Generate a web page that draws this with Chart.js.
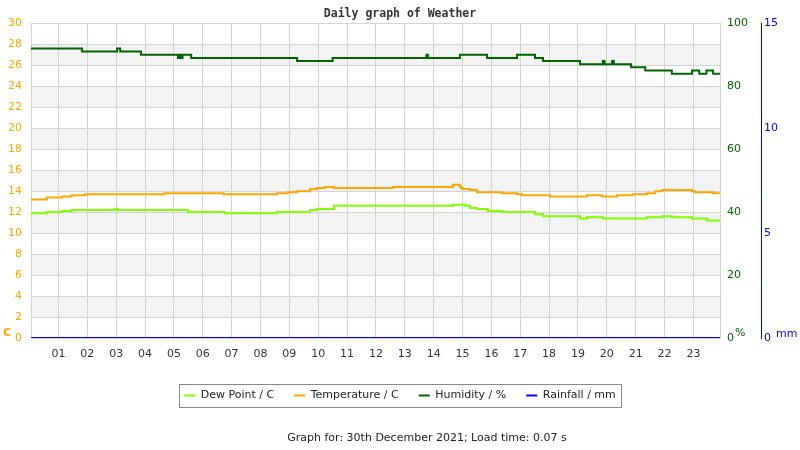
<!DOCTYPE html>
<html>
<head>
<meta charset="utf-8">
<script src="https://cdn.jsdelivr.net/npm/chart.js@4.4.1/dist/chart.umd.min.js"></script>
<style>
html, body { margin: 0; padding: 0; background: #fff; }
</style>
</head>
<body>
<canvas id="weatherChart" width="800" height="450"></canvas>
<script>
/* datos: hora de inicio de cada tramo y su valor */
const dewTimes = [0.05, 0.60, 1.13, 1.46, 2.95, 3.05, 5.49, 6.77, 8.57, 9.72, 9.96, 10.55, 14.67, 15.08, 15.26, 15.50, 15.88, 16.37, 17.51, 17.79, 19.07, 19.31, 19.86, 21.39, 21.91, 22.25, 22.95, 23.47, 23.92];
const dewVals = [11.9, 12.0, 12.1, 12.2, 12.3, 12.2, 12.0, 11.9, 12.0, 12.2, 12.3, 12.6, 12.7, 12.6, 12.4, 12.3, 12.1, 12.0, 11.8, 11.6, 11.4, 11.5, 11.4, 11.5, 11.6, 11.5, 11.4, 11.2, 11.2];

const tempTimes = [0.05, 0.60, 1.13, 1.46, 1.93, 4.67, 6.71, 8.57, 8.95, 9.27, 9.72, 9.96, 10.24, 10.55, 12.59, 14.67, 14.91, 14.98, 15.26, 15.50, 16.37, 16.89, 17.06, 18.03, 19.31, 19.83, 20.35, 20.90, 21.39, 21.67, 21.91, 22.95, 23.05, 23.67, 23.92];
const tempVals = [13.2, 13.4, 13.5, 13.6, 13.7, 13.8, 13.7, 13.8, 13.9, 14.0, 14.2, 14.3, 14.4, 14.3, 14.4, 14.6, 14.4, 14.2, 14.1, 13.9, 13.8, 13.7, 13.6, 13.5, 13.6, 13.5, 13.6, 13.7, 13.8, 14.0, 14.1, 14.0, 13.9, 13.8, 13.8];

const humTimes = [0.05, 1.82, 3.03, 3.14, 3.86, 5.14, 5.19, 5.25, 5.30, 5.60, 9.27, 10.50, 13.75, 13.80, 14.91, 15.85, 16.89, 17.51, 17.79, 19.07, 19.86, 19.92, 20.18, 20.24, 20.84, 21.33, 22.25, 22.95, 23.20, 23.45, 23.68, 23.92];
const humVals = [92, 91, 92, 91, 90, 89, 90, 89, 90, 89, 88, 89, 90, 89, 90, 89, 90, 89, 88, 87, 88, 87, 88, 87, 86, 85, 84, 85, 84, 85, 84, 84];

const rainTimes = [0.05, 23.92];
const rainVals = [0, 0];

const hourTicks = [1, 2, 3, 4, 5, 6, 7, 8, 9, 10, 11, 12, 13, 14, 15, 16, 17, 18, 19, 20, 21, 22, 23];
const seriesNames = ['Dew Point / C', 'Temperature / C', 'Humidity / %', 'Rainfall / mm'];
const footerText = 'Graph for: 30th December 2021; Load time: 0.07 s';

function toPoints(times, vals) {
    return times.map((t, i) => ({ x: t, y: vals[i] }));
}

Chart.defaults.font.family = "'DejaVu Sans', sans-serif";
Chart.defaults.font.size = 11;

/* franjas grises, marco de la leyenda, unidades y pie */
const extras = {
    id: 'extras',
    beforeDraw(chart) {
        const { ctx, chartArea: a, scales: { y } } = chart;
        ctx.save();
        ctx.fillStyle = '#f3f3f3';
        for (let v = 2; v < 30; v += 4) {
            const top = y.getPixelForValue(v + 2);
            const bot = y.getPixelForValue(v);
            ctx.fillRect(a.left, top, a.right - a.left, bot - top);
        }
        ctx.restore();
    },
    afterDraw(chart) {
        const ctx = chart.ctx;
        const boxes = chart.legend.legendHitBoxes;
        ctx.save();
        if (boxes && boxes.length) {
            const l = Math.min(...boxes.map(b => b.left)) - 5;
            const r = Math.max(...boxes.map(b => b.left + b.width)) + 5;
            const t = boxes[0].top - 6;
            const b = boxes[0].top + boxes[0].height + 6;
            ctx.strokeStyle = '#888';
            ctx.lineWidth = 1;
            ctx.strokeRect(Math.round(l) + 0.5, Math.round(t) + 0.5, Math.round(r - l), Math.round(b - t));
        }
        ctx.textBaseline = 'middle';
        ctx.font = "bold 11px 'DejaVu Sans'";
        ctx.fillStyle = '#FFA500';
        ctx.textAlign = 'left';
        ctx.fillText('C', 3, 333);
        ctx.font = "11px 'DejaVu Sans'";
        ctx.fillStyle = '#006400';
        ctx.fillText('%', 735, 333);
        ctx.fillStyle = '#0000FF';
        ctx.fillText('mm', 776, 334);
        ctx.fillStyle = '#222';
        ctx.textAlign = 'center';
        ctx.fillText(footerText, 427, 438);
        ctx.restore();
    }
};

const ctx = document.getElementById('weatherChart').getContext('2d');
new Chart(ctx, {
    type: 'line',
    data: {
        datasets: [{
            label: seriesNames[0],
            data: toPoints(dewTimes, dewVals),
            borderColor: '#7FFF00',
            backgroundColor: '#7FFF00',
            yAxisID: 'y'
        }, {
            label: seriesNames[1],
            data: toPoints(tempTimes, tempVals),
            borderColor: '#FFA500',
            backgroundColor: '#FFA500',
            yAxisID: 'y'
        }, {
            label: seriesNames[2],
            data: toPoints(humTimes, humVals),
            borderColor: '#006400',
            backgroundColor: '#006400',
            yAxisID: 'yH'
        }, {
            label: seriesNames[3],
            data: toPoints(rainTimes, rainVals),
            borderColor: '#0000FF',
            backgroundColor: '#0000FF',
            yAxisID: 'yR'
        }]
    },
    options: {
        responsive: false,
        animation: false,
        layout: { padding: { top: 0, bottom: 39, left: 0, right: 0 } },
        elements: {
            line: { borderWidth: 2, stepped: true, tension: 0 },
            point: { radius: 0 }
        },
        plugins: {
            title: {
                display: true,
                text: 'Daily graph of Weather',
                color: '#333',
                font: { family: "'DejaVu Sans Mono', monospace", size: 11.5, weight: 'bold', lineHeight: 1.2 },
                padding: { top: 7, bottom: 2.5 }
            },
            legend: {
                position: 'bottom',
                labels: {
                    color: '#222',
                    boxWidth: 11,
                    boxHeight: 2,
                    padding: 20,
                    generateLabels(chart) {
                        return Chart.defaults.plugins.legend.labels.generateLabels(chart)
                            .map(item => ({ ...item, lineWidth: 0 }));
                    }
                }
            },
            tooltip: { enabled: false }
        },
        scales: {
            x: {
                type: 'linear',
                min: 0.05,
                max: 23.92,
                afterBuildTicks(scale) {
                    scale.ticks = hourTicks.map(v => ({ value: v }));
                },
                afterFit(scale) { scale.height = 32; },
                grid: { color: '#d3d3d3', drawTicks: false },
                border: { display: false },
                ticks: {
                    color: '#333',
                    padding: 10,
                    maxRotation: 0,
                    autoSkip: false,
                    callback: v => String(v).padStart(2, '0')
                }
            },
            y: {
                position: 'left',
                min: 0,
                max: 30,
                afterFit(scale) { scale.width = 31; },
                grid: { color: '#d3d3d3', drawTicks: false },
                border: { color: '#d3d3d3' },
                ticks: { stepSize: 2, color: '#FFA500', padding: 9 }
            },
            yH: {
                position: 'right',
                min: 0,
                max: 100,
                afterFit(scale) { scale.width = 41; },
                grid: { display: false, drawTicks: false },
                border: { color: '#d3d3d3' },
                ticks: { stepSize: 20, color: '#006400', padding: 7 }
            },
            yR: {
                position: 'right',
                min: 0,
                max: 15,
                afterFit(scale) { scale.width = 39; },
                grid: { display: false, drawTicks: false },
                border: { color: '#0000FF' },
                ticks: { stepSize: 5, color: '#0000FF', padding: 3 }
            }
        }
    },
    plugins: [extras]
});
</script>
</body>
</html>
